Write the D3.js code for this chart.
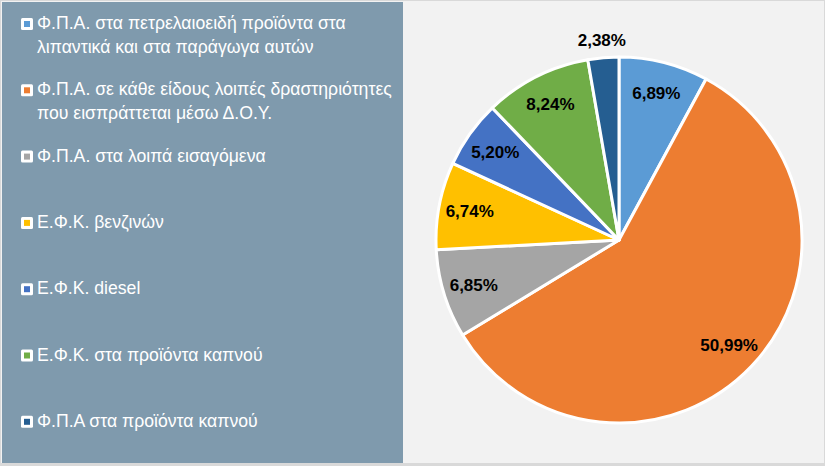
<!DOCTYPE html>
<html>
<head>
<meta charset="utf-8">
<script src="https://cdn.jsdelivr.net/npm/d3@7"></script>
<style>
  body { margin: 0; background: #f2f2f2; }
  svg { display: block; }
</style>
</head>
<body>
<script>
// data (order = clockwise from 12 o'clock)
var categories = [
  "Φ.Π.Α. στα πετρελαιοειδή προϊόντα στα|λιπαντικά και στα παράγωγα αυτών",
  "Φ.Π.Α. σε κάθε είδους λοιπές δραστηριότητες|που εισπράττεται μέσω Δ.Ο.Υ.",
  "Φ.Π.Α. στα λοιπά εισαγόμενα",
  "Ε.Φ.Κ. βενζινών",
  "Ε.Φ.Κ. diesel",
  "Ε.Φ.Κ. στα προϊόντα καπνού",
  "Φ.Π.Α στα προϊόντα καπνού"
];
var values = [6.89, 50.99, 6.85, 6.74, 5.20, 8.24, 2.38];
var labels = ["6,89%", "50,99%", "6,85%", "6,74%", "5,20%", "8,24%", "2,38%"];
var colors = ["#5b9bd5", "#ed7d31", "#a5a5a5", "#ffc000", "#4472c4", "#70ad47", "#255e91"];

var width = 825, height = 466;

var svg = d3.select("body").append("svg")
    .attr("width", width)
    .attr("height", height);

svg.append("rect")
    .attr("x", 0.5).attr("y", 0.5)
    .attr("width", width - 1).attr("height", height - 2)
    .attr("fill", "#f2f2f2")
    .attr("stroke", "#d9d9d9");

svg.append("rect")
    .attr("x", 0).attr("y", height - 3)
    .attr("width", width).attr("height", 3)
    .attr("fill", "#d9d9d9");

// legend panel
svg.append("rect")
    .attr("x", 2).attr("y", 2)
    .attr("width", 401).attr("height", 461)
    .attr("fill", "#7f9aad");

var legend = svg.append("g").attr("class", "legend");

var item = legend.selectAll("g")
    .data(categories)
  .enter().append("g")
    .attr("transform", function(d, i) { return "translate(21," + (29 + i * 66.3) + ")"; });

item.append("rect")
    .attr("x", 0).attr("y", -11)
    .attr("width", 12).attr("height", 12)
    .attr("rx", 1.5)
    .attr("fill", "#fff");

item.append("rect")
    .attr("x", 3).attr("y", -8)
    .attr("width", 6).attr("height", 6)
    .attr("fill", function(d, i) { return colors[i]; });

var txt = item.append("text")
    .attr("x", 16)
    .attr("fill", "#fff")
    .style("font-family", "'Liberation Sans', Arial, sans-serif")
    .style("font-size", "15px");

txt.selectAll("tspan")
    .data(function(d) { return d.split("|"); })
  .enter().append("tspan")
    .attr("x", 16)
    .attr("dy", function(d, j) { return j ? 24 : 0; })
    .text(function(d) { return d; });

// fit font so the longest line is about 355px wide, like the original
var longest = 0;
txt.selectAll("tspan").each(function() {
  longest = Math.max(longest, this.getComputedTextLength());
});
txt.style("font-size", (15 * 355 / longest).toFixed(2) + "px");

// pie
var cx = 619, cy = 240, radius = 183;

var pie = d3.pie().sort(null).value(function(d) { return d; });
var arcs = pie(values);

var arc = d3.arc().innerRadius(0).outerRadius(radius);
var labelArc = d3.arc().innerRadius(152).outerRadius(152);
var outerArc = d3.arc().innerRadius(201).outerRadius(201);

var g = svg.append("g")
    .attr("transform", "translate(" + cx + "," + cy + ")");

g.selectAll("path")
    .data(arcs)
  .enter().append("path")
    .attr("d", arc)
    .attr("fill", function(d, i) { return colors[i]; })
    .attr("stroke", "#fff")
    .attr("stroke-width", 3)
    .attr("stroke-linejoin", "round");

var total = d3.sum(values);

g.selectAll("text")
    .data(arcs)
  .enter().append("text")
    .attr("transform", function(d) {
      var c = (d.value / total < 0.04 ? outerArc : labelArc).centroid(d);
      return "translate(" + c + ")";
    })
    .attr("text-anchor", "middle")
    .attr("dy", "0.36em")
    .style("font-family", "'Liberation Sans', Arial, sans-serif")
    .style("font-weight", "bold")
    .style("font-size", "17px")
    .attr("fill", "#000")
    .text(function(d, i) { return labels[i]; });
</script>
</body>
</html>
